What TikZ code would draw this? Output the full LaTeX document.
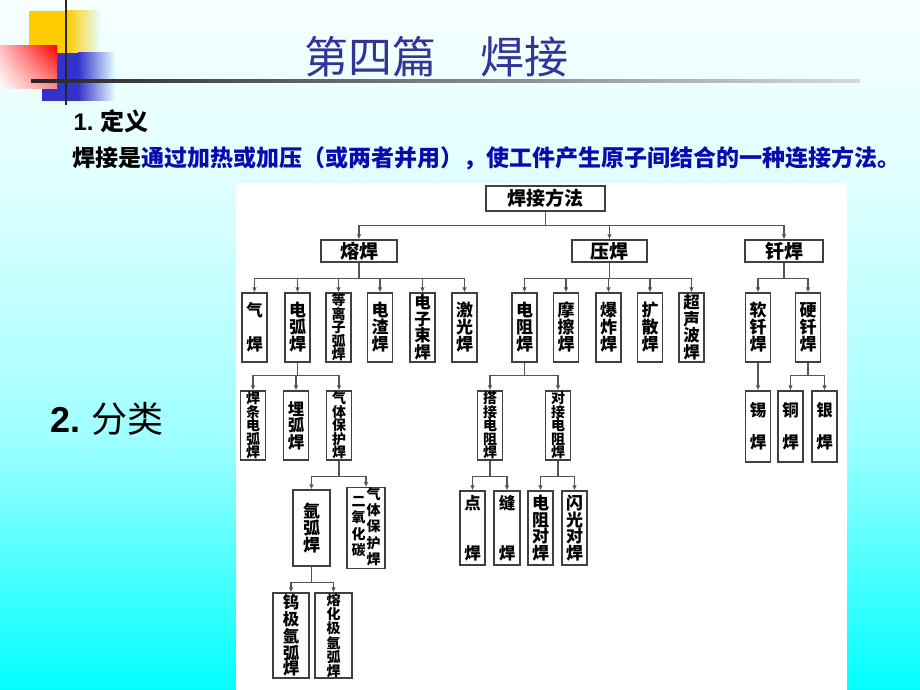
\documentclass[tikz,border=0pt]{standalone}
\usepackage{fontspec}
\newfontfamily\cjk{Noto Sans CJK SC}
\newfontfamily\arialfont{Liberation Sans}
\usetikzlibrary{arrows.meta,shadings}

\definecolor{titleblue}{RGB}{51,51,153}
\definecolor{textblue}{RGB}{10,10,175}
\definecolor{linegray}{RGB}{85,85,85}
\definecolor{logoyellow}{RGB}{255,204,0}
\definecolor{logoblue}{RGB}{51,51,204}

% slide background: light at the top, cyan at the bottom
\pgfdeclareverticalshading{slidebg}{100bp}{rgb(0bp)=(0,1,1); rgb(25bp)=(0,1,1);
  rgb(43.5bp)=(0.63,1,1); rgb(62bp)=(0.88,1,1); rgb(75bp)=(0.97,1,1); rgb(100bp)=(0.97,1,1)}

\tikzset{
  wbox/.style={draw=black!75, line width=1.1pt, fill=white, inner sep=0pt, align=center},
  headbox/.style={wbox, minimum height=22pt, font=\cjk\bfseries\fontsize{19}{20}\selectfont},
  slim/.style={wbox, minimum width=25pt, minimum height=69pt},
  chars2/.style={font=\cjk\bfseries\fontsize{16.5}{16}\selectfont},
  chars3/.style={font=\cjk\bfseries\fontsize{17}{17}\selectfont},
  chars4/.style={font=\cjk\bfseries\fontsize{16.5}{16.5}\selectfont},
  chars5/.style={font=\cjk\bfseries\fontsize{14}{13.5}\selectfont},
  link/.style={draw=linegray, line width=1.1pt},
}

\begin{document}
\begin{tikzpicture}[x=1pt,y=-1pt,>={Latex[length=5pt,width=4.5pt]}]
	\useasboundingbox (0,0) rectangle (920,690);
	\fill[shading=slidebg] (0,0) rectangle (920,690);

	% logo in the corner
	\fill[logoyellow] (29,11) rectangle (67,53);
	\shade[left color=logoyellow, right color=white!90!cyan] (67,11) rectangle (100,53);
	\fill[logoblue] (42,53) rectangle (78,101);
	\shade[left color=logoblue, right color=white!90!cyan] (78,53) rectangle (115,101);
	\shade[upper left=red!25, upper right=red, lower left=white, lower right=red!45] (0,46) rectangle (57,89);
	\fill[black!85] (64.5,0) rectangle (67,105);
	\shade[left color=black!85, right color=black!15] (31,79.5) rectangle (860,83);

	% title and definition
	\node[text=titleblue, font=\cjk\fontsize{44}{44}\selectfont] (title) at (436,57) {第四篇　焊接};
	\node[anchor=west, font=\cjk\bfseries\fontsize{24}{24}\selectfont] (defhead) at (70,121)
		{{\arialfont\bfseries 1.} 定义};
	\node[anchor=west, font=\cjk\bfseries\fontsize{23}{23}\selectfont] (deftext) at (69,158)
		{焊接是\textcolor{textblue}{通过加热或加压（或两者并用），使工件产生原子间结合的一种连接方法。}};
	\node[anchor=west, font=\cjk\fontsize{36}{36}\selectfont] (cls) at (47,419)
		{{\arialfont\bfseries 2.} 分类};

	% white panel of the chart
	\fill[white] (236,183) rectangle (847,690);

	% top levels
	\node[headbox, minimum width=119pt, minimum height=25pt] (root) at (545.5,198.5) {焊接方法};
	\node[headbox, minimum width=76pt] (rong) at (359,251) {熔焊};
	\node[headbox, minimum width=75pt] (ya) at (609.5,251) {压焊};
	\node[headbox, minimum width=78pt] (qian) at (784,251) {钎焊};

	% second level
	\node[slim, chars2] (qi) at (254.5,327.5) {气\\[18pt]焊};
	\node[slim, chars3] (dianhu) at (297.5,327.5) {电\\弧\\焊};
	\node[slim, chars5] (dengli) at (338.5,327.5) {等\\离\\子\\弧\\焊};
	\node[slim, chars3] (dianzha) at (380,327.5) {电\\渣\\焊};
	\node[slim, chars4] (dianzi) at (422.5,327.5) {电\\子\\束\\焊};
	\node[slim, chars3] (jiguang) at (464.5,327.5) {激\\光\\焊};
	\node[slim, chars3] (dianzu) at (524.5,327.5) {电\\阻\\焊};
	\node[slim, chars3] (moca) at (566,327.5) {摩\\擦\\焊};
	\node[slim, chars3] (baozha) at (608.5,327.5) {爆\\炸\\焊};
	\node[slim, chars3] (kuosan) at (650,327.5) {扩\\散\\焊};
	\node[slim, chars4] (chaosheng) at (691.5,327.5) {超\\声\\波\\焊};
	\node[slim, chars3] (ruan) at (758,327.5) {软\\钎\\焊};
	\node[slim, chars3] (ying) at (808,327.5) {硬\\钎\\焊};

	% third level
	\node[slim, chars5] (hantiao) at (253,425.5) {焊\\条\\电\\弧\\焊};
	\node[slim, chars4] (maihu) at (296,425.5) {埋\\弧\\焊};
	\node[slim, chars5] (qiti) at (339,425.5) {气\\体\\保\\护\\焊};
	\node[slim, chars5] (dajie) at (490,425.5) {搭\\接\\电\\阻\\焊};
	\node[slim, chars5] (duijie) at (558,425.5) {对\\接\\电\\阻\\焊};
	\node[slim, chars2, minimum height=71pt] (xi) at (758,426.5) {锡\\[16pt]焊};
	\node[slim, chars2, minimum height=71pt] (tong) at (790.5,426.5) {铜\\[16pt]焊};
	\node[slim, chars2, minimum height=71pt] (yin) at (824.5,426.5) {银\\[16pt]焊};

	% fourth level
	\node[slim, chars3, minimum width=37pt, minimum height=76pt] (yahu) at (311.5,528) {氩\\弧\\焊};
	\node[slim, minimum width=38pt, minimum height=76pt, font=\cjk\bfseries\fontsize{14}{14}\selectfont] (coer) at (366,528)
		{\begin{tabular}[c]{@{}c@{}}二\\氧\\化\\碳\end{tabular}\hspace{1pt}%
		 \begin{tabular}[c]{@{}c@{}}气\\体\\保\\护\\焊\end{tabular}};
	\node[slim, chars2, minimum height=74pt] (dian) at (472.5,528) {点\\[34pt]焊};
	\node[slim, chars2, minimum width=26pt, minimum height=74pt] (feng) at (507,528) {缝\\[34pt]焊};
	\node[slim, minimum height=74pt, font=\cjk\bfseries\fontsize{17}{16.5}\selectfont] (zudui) at (540.5,528) {电\\阻\\对\\焊};
	\node[slim, minimum height=74pt, font=\cjk\bfseries\fontsize{17}{16.5}\selectfont] (shanguang) at (574.5,528) {闪\\光\\对\\焊};

	% fifth level
	\node[slim, minimum width=36pt, minimum height=85pt, font=\cjk\bfseries\fontsize{16.5}{15.5}\selectfont] (wuji) at (291,635.5) {钨\\极\\氩\\弧\\焊};
	\node[slim, minimum width=37pt, minimum height=85pt, font=\cjk\bfseries\fontsize{14}{12.5}\selectfont] (rhj) at (333.5,635.5) {熔\\化\\极\\氩\\弧\\焊};

	% connectors
	\foreach \c in {rong,ya,qian}
		\draw[link,->] (root.south) -- ++(0,14) -| (\c.north);
	\foreach \c in {qi,dianhu,dengli,dianzha,dianzi,jiguang}
		\draw[link,->] (rong.south) -- ++(0,16) -| (\c.north);
	\foreach \c in {dianzu,moca,baozha,kuosan,chaosheng}
		\draw[link,->] (ya.south) -- ++(0,16) -| (\c.north);
	\foreach \c in {ruan,ying}
		\draw[link,->] (qian.south) -- ++(0,16) -| (\c.north);
	\foreach \c in {hantiao,maihu,qiti}
		\draw[link,->] (dianhu.south) -- ++(0,13) -| (\c.north);
	\foreach \c in {dajie,duijie}
		\draw[link,->] (dianzu.south) -- ++(0,13) -| (\c.north);
	\draw[link,->] (ruan.south) -- (xi.north);
	\foreach \c in {tong,yin}
		\draw[link,->] (ying.south) -- ++(0,13) -| (\c.north);
	\foreach \c in {yahu,coer}
		\draw[link,->] (qiti.south) -- ++(0,16) -| (\c.north);
	\foreach \c in {dian,feng}
		\draw[link,->] (dajie.south) -- ++(0,16) -| (\c.north);
	\foreach \c in {zudui,shanguang}
		\draw[link,->] (duijie.south) -- ++(0,16) -| (\c.north);
	\foreach \c in {wuji,rhj}
		\draw[link,->] (yahu.south) -- ++(0,16) -| (\c.north);
\end{tikzpicture}
\end{document}
